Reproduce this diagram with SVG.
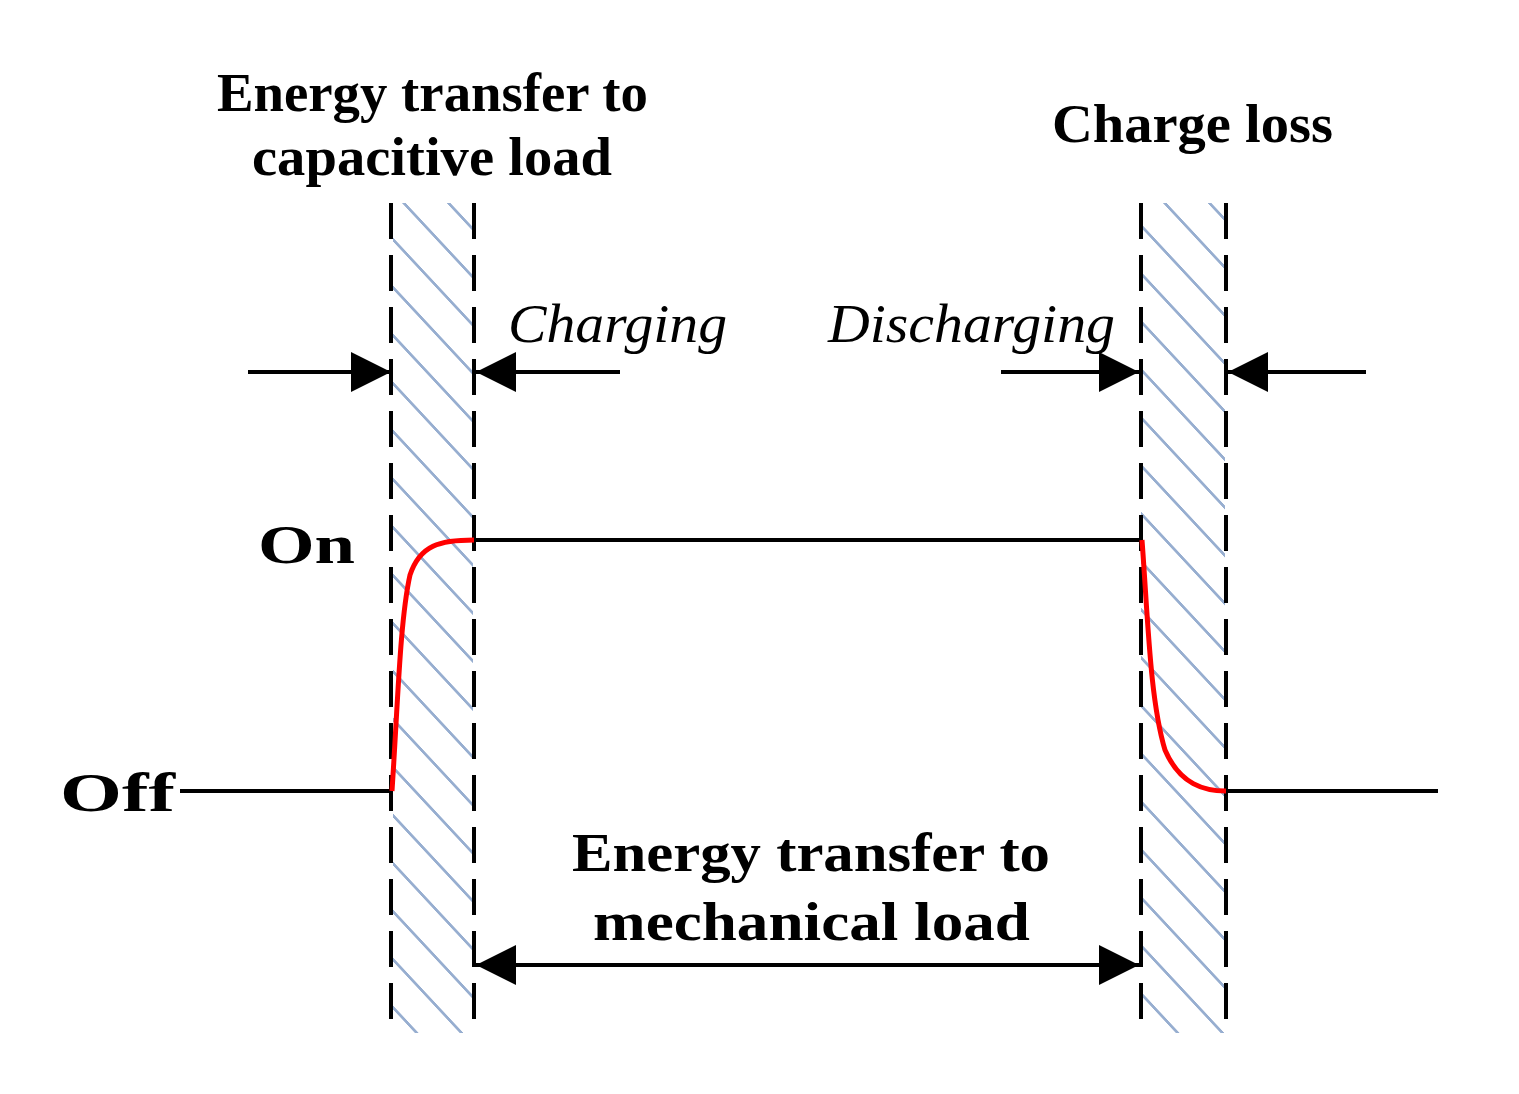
<svg xmlns="http://www.w3.org/2000/svg" width="1519" height="1094" viewBox="0 0 1519 1094">
<style>
.t{font-family:"Liberation Serif",serif;font-size:54px;fill:#000;font-weight:bold}
.i{font-style:italic;font-weight:normal}
.dash{stroke:#000;stroke-width:4;stroke-dasharray:36 16;fill:none}
.ln{stroke:#000;stroke-width:4;fill:none}
.red{stroke:#f00;stroke-width:5;fill:none}
</style>
<defs>
<pattern id="h" patternUnits="userSpaceOnUse" width="48" height="48" patternTransform="skewY(47)">
<line x1="0" y1="10" x2="48" y2="10" stroke="#97aed0" stroke-width="4"/>
</pattern>
<marker id="ab" viewBox="0 0 10 10" refX="10" refY="5" markerWidth="40" markerHeight="40" markerUnits="userSpaceOnUse" orient="auto-start-reverse"><path d="M0,0L10,5L0,10z"/></marker>
</defs>
<rect x="393" y="203" width="80" height="830" fill="url(#h)"/>
<rect x="1141" y="203" width="84" height="830" fill="url(#h)"/>
<g id="bands">
<line class="dash" x1="391" y1="203" x2="391" y2="1033"/>
<line class="dash" x1="474" y1="203" x2="474" y2="1033"/>
<line class="dash" x1="1141" y1="203" x2="1141" y2="1033"/>
<line class="dash" x1="1226" y1="203" x2="1226" y2="1033"/>
</g>
<g id="connectors">
<line class="ln" x1="248" y1="372" x2="391" y2="372" marker-end="url(#ab)"/>
<line class="ln" x1="620" y1="372" x2="476" y2="372" marker-end="url(#ab)"/>
<line class="ln" x1="1001" y1="372" x2="1139" y2="372" marker-end="url(#ab)"/>
<line class="ln" x1="1366" y1="372" x2="1228" y2="372" marker-end="url(#ab)"/>
<line class="ln" x1="476" y1="965" x2="1139" y2="965" marker-start="url(#ab)" marker-end="url(#ab)"/>
</g>
<g id="signal">
<line class="ln" x1="180" y1="791" x2="391" y2="791"/>
<line class="ln" x1="474" y1="540" x2="1141" y2="540"/>
<line class="ln" x1="1226" y1="791" x2="1438" y2="791"/>
<path class="red" d="M392,791 C398,700 400,620 410,575 C420,545 440,540 474,540"/>
<path class="red" d="M1142,540 C1148,620 1150,700 1165,750 C1180,785 1205,791 1226,791"/>
</g>
<g id="labels">
<text class="t" x="217" y="111" textLength="431" lengthAdjust="spacingAndGlyphs">Energy transfer to</text>
<text class="t" x="252" y="175" textLength="360" lengthAdjust="spacingAndGlyphs">capacitive load</text>
<text class="t" x="1052" y="142" textLength="281" lengthAdjust="spacingAndGlyphs">Charge loss</text>
<text class="t i" x="508" y="342" textLength="219" lengthAdjust="spacingAndGlyphs">Charging</text>
<text class="t i" x="828" y="342" textLength="287" lengthAdjust="spacingAndGlyphs">Discharging</text>
<text class="t" x="258" y="563" font-size="72" textLength="97" lengthAdjust="spacingAndGlyphs">On</text>
<text class="t" x="60" y="811" font-size="72" textLength="115" lengthAdjust="spacingAndGlyphs">Off</text>
<text class="t" x="572" y="871" textLength="478" lengthAdjust="spacingAndGlyphs">Energy transfer to</text>
<text class="t" x="593" y="940" textLength="437" lengthAdjust="spacingAndGlyphs">mechanical load</text>
</g>
</svg>
